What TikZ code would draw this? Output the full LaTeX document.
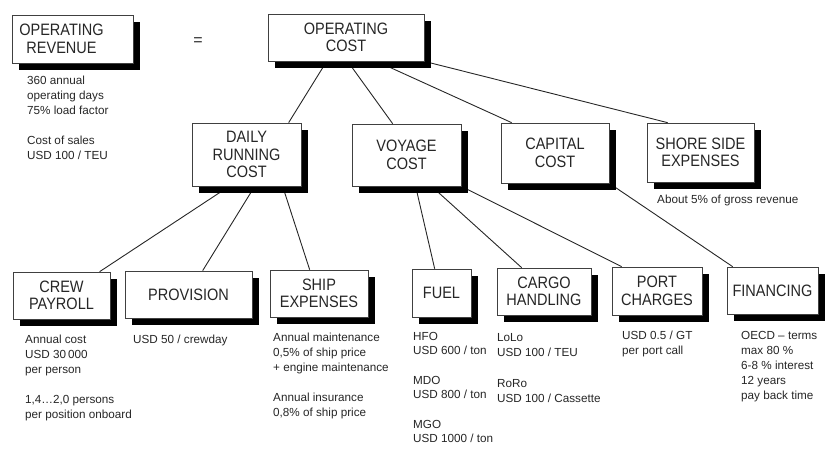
\documentclass[tikz,border=0pt]{standalone}
\usepackage{fontspec}
\setmainfont{Liberation Sans}
\newfontfamily\boxfont{Liberation Sans}[FakeStretch=0.88]
\usetikzlibrary{calc,shadows,backgrounds}

\tikzset{
  costbox/.style={draw=black!75, line width=0.7pt, fill=white, inner sep=0pt,
    align=center, text=black!85,
    font=\boxfont\fontsize{16.5}{17.5}\selectfont,
    general shadow={fill=black, shadow xshift=7pt, shadow yshift=-7pt}},
  note/.style={anchor=north west, inner sep=0pt, align=left, text=black!85,
    font=\fontsize{11.7}{15}\selectfont},
  link/.style={draw=black!85, line width=0.9pt}
}

\begin{document}
\begin{tikzpicture}[x=1pt,y=-1pt]
\useasboundingbox (0,0) rectangle (825,448);

% top row
\node[costbox, minimum width=121pt, minimum height=48pt] (or) at (72.5,39) {OPERATING\hspace*{22pt}\\REVENUE\hspace*{22pt}};
\node[font=\fontsize{16}{17}\selectfont, text=black!85] (eq) at (198,42) {=};
\node[costbox, minimum width=156pt, minimum height=47pt] (oc) at (346,37.5) {OPERATING\\COST};

% cost groups
\node[costbox, minimum width=109pt, minimum height=63pt] (drc) at (246.5,154.5) {DAILY\\RUNNING\\COST};
\node[costbox, minimum width=109pt, minimum height=62pt] (vc) at (406.5,155) {VOYAGE\\COST};
\node[costbox, minimum width=108pt, minimum height=60pt] (cc) at (555,153) {CAPITAL\\COST};
\node[costbox, minimum width=107pt, minimum height=59pt] (sse) at (700.5,152.5) {SHORE SIDE\\EXPENSES};

% cost items
\node[costbox, minimum width=97pt, minimum height=47pt] (cp) at (61.5,295.5) {CREW\\PAYROLL};
\node[costbox, minimum width=127pt, minimum height=47pt] (pr) at (188.5,294.5) {PROVISION};
\node[costbox, minimum width=98pt, minimum height=47pt] (se) at (319,293.5) {SHIP\\EXPENSES};
\node[costbox, minimum width=59pt, minimum height=48pt] (fu) at (441.5,293) {FUEL};
\node[costbox, minimum width=94pt, minimum height=47pt] (ch) at (544,291.5) {CARGO\\HANDLING};
\node[costbox, minimum width=90pt, minimum height=48pt] (pc) at (657,291) {PORT\\CHARGES};
\node[costbox, minimum width=91pt, minimum height=47pt] (fi) at (772.5,290.5) {FINANCING};

% notes
\node[note] (orn) at (27,76) {360 annual\\operating days\\75\% load factor\\[15pt]Cost of sales\\USD 100 / TEU};
\node[note] (ssen) at (657,195) {About 5\% of gross revenue};
\node[note] (cpn) at (25,335) {Annual cost\\USD 30\,000\\per person\\[15pt]1,4\ldots2,0 persons\\per position onboard};
\node[note] (prn) at (133,335) {USD 50 / crewday};
\node[note] (sen) at (273,333) {Annual maintenance\\0,5\% of ship price\\+ engine maintenance\\[15pt]Annual insurance\\0,8\% of ship price};
\node[note, font=\fontsize{11.7}{14.5}\selectfont] (fun) at (413,332) {HFO\\USD 600 / ton\\[15pt]MDO\\USD 800 / ton\\[15pt]MGO\\USD 1000 / ton};
\node[note] (chn) at (497,333) {LoLo\\USD 100 / TEU\\[16pt]RoRo\\USD 100 / Cassette};
\node[note] (pcn) at (622,331) {USD 0.5 / GT\\per port call};
\node[note] (fin) at (741,331) {OECD -- terms\\max 80 \%\\6-8 \% interest\\12 years\\pay back time};

% connectors, kept behind the boxes and their shadows
\begin{pgfonlayer}{background}
\draw[link] ($(oc.south west)+(59,0)$) -- ($(drc.north west)+(97,0)$);
\draw[link] ($(oc.south west)+(80,0)$) -- ($(vc.north west)+(41,0)$);
\draw[link] ($(oc.south west)+(109,0)$) -- ($(cc.north west)+(11,0)$);
\draw[link] (oc.south east) -- ($(sse.north west)+(21,0)$);

\draw[link] ($(drc.south west)+(37.5,0)$) -- ($(cp.north west)+(87,0)$);
\draw[link] ($(drc.south west)+(63,0)$) -- ($(pr.north west)+(78,0)$);
\draw[link] ($(drc.south west)+(91,0)$) -- ($(se.north west)+(40,0)$);

\draw[link] ($(vc.south west)+(64,0)$) -- ($(fu.north west)+(23,0)$);
\draw[link] ($(vc.south west)+(80,0)$) -- ($(ch.north west)+(25,0)$);
\draw[link] (vc.south east) -- ($(pc.north west)+(10,0)$);

\draw[link] (cc.south east) -- ($(fi.north west)+(6,0)$);
\end{pgfonlayer}
\end{tikzpicture}
\end{document}
